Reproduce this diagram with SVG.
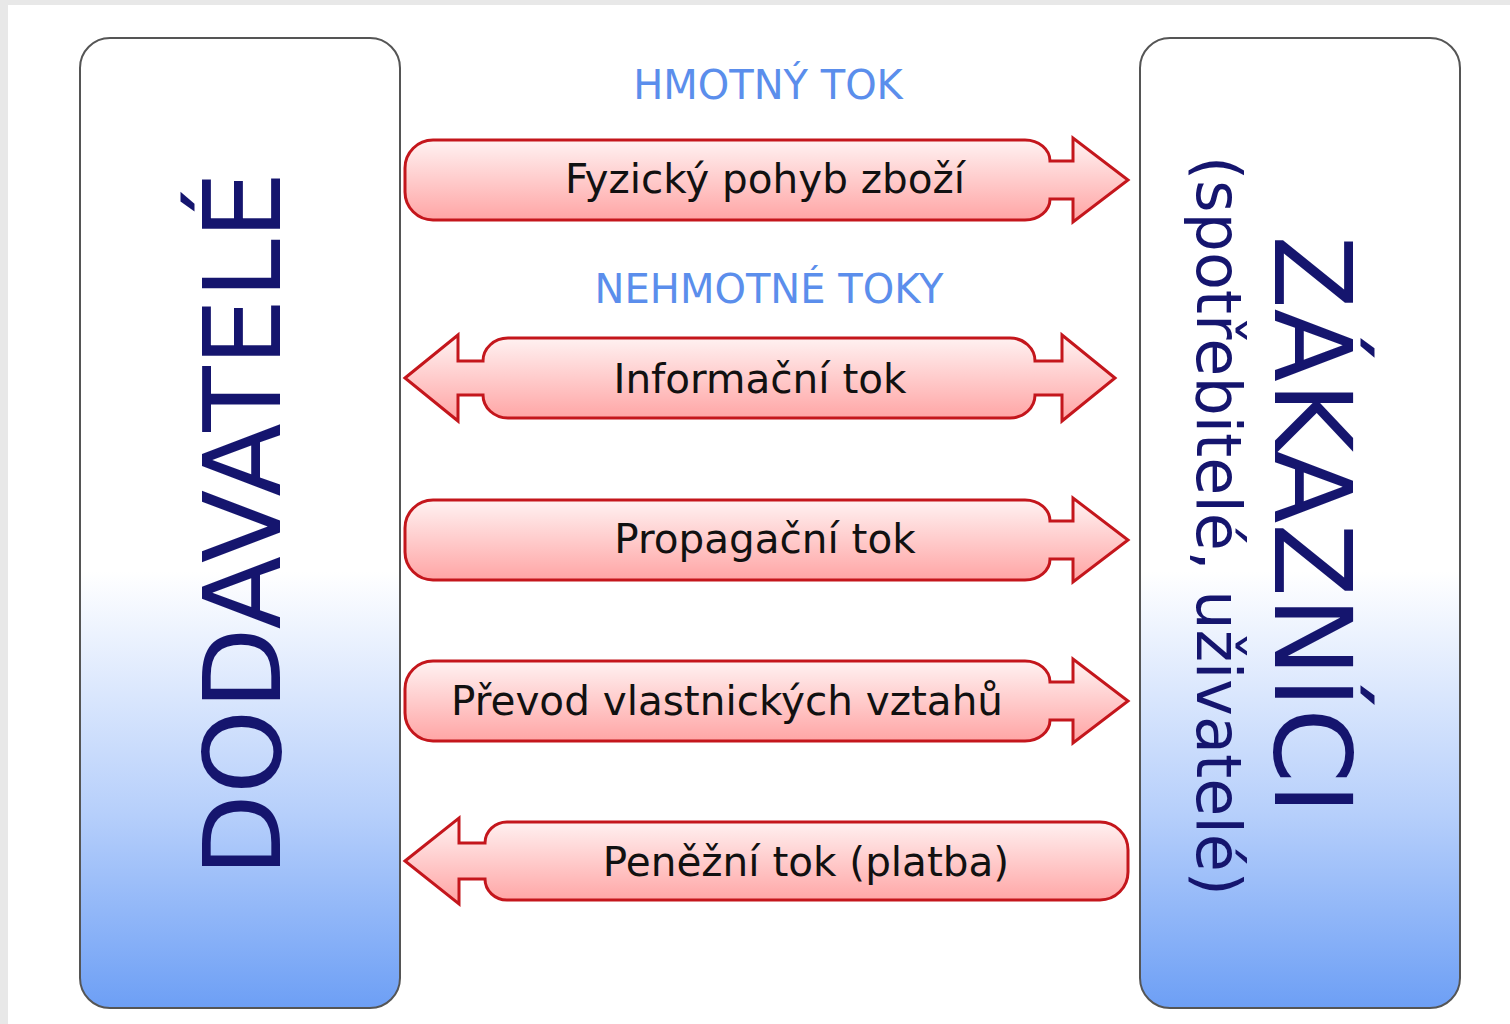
<svg xmlns="http://www.w3.org/2000/svg" width="1510" height="1024" viewBox="0 0 1510 1024">
<defs>
<linearGradient id="boxg" x1="0" y1="0" x2="0" y2="1">
<stop offset="0" stop-color="#ffffff"/>
<stop offset="0.55" stop-color="#ffffff"/>
<stop offset="0.8" stop-color="#b6cffb"/>
<stop offset="1" stop-color="#6d9ff5"/>
</linearGradient>
<linearGradient id="arrg" x1="0" y1="0" x2="0" y2="1">
<stop offset="0" stop-color="#fff4f4"/>
<stop offset="1" stop-color="#ffa3a3"/>
</linearGradient>
<path id="rarrow" d="M 433 -40 H 1025 A 25 21 0 0 1 1050 -19 H 1073 V -42 L 1128 0 L 1073 42 V 19 H 1050 A 25 21 0 0 1 1025 40 H 433 A 28 28 0 0 1 405 12 V -12 A 28 28 0 0 1 433 -40 Z"/>
</defs>
<style>
.box{fill:url(#boxg);stroke:#555555;stroke-width:2}
.arr{fill:url(#arrg);stroke:#c4161c;stroke-width:3;stroke-linejoin:miter}
.lbl{font-family:"DejaVu Sans","Liberation Sans",sans-serif;font-size:40.5px;fill:#111111;text-anchor:middle}
.cat{font-family:"DejaVu Sans","Liberation Sans",sans-serif;font-size:40px;fill:#5b8eec;text-anchor:middle}
.big{font-family:"DejaVu Sans","Liberation Sans",sans-serif;font-size:107px;fill:#15156e;text-anchor:middle}
.sub{font-family:"DejaVu Sans","Liberation Sans",sans-serif;font-size:62px;fill:#15156e;text-anchor:middle}
</style>
<rect x="0" y="0" width="1510" height="1024" fill="#e8e8e8"/>
<rect x="8" y="5" width="1502" height="1019" fill="#ffffff"/>

<g id="dodavatele">
<rect class="box" x="80" y="38" width="320" height="970" rx="30" ry="30"/>
<text class="big" transform="translate(280,524) rotate(-90)">DODAVATELÉ</text>
</g>

<g id="zakaznici">
<rect class="box" x="1140" y="38" width="320" height="970" rx="30" ry="30"/>
<text class="big" transform="translate(1275,525) rotate(90)">ZÁKAZNÍCI</text>
<text class="sub" transform="translate(1197,526) rotate(90)">(spotřebitelé, uživatelé)</text>
</g>

<g id="labels">
<text class="cat" x="768" y="99">HMOTNÝ TOK</text>
<text class="cat" x="769" y="303">NEHMOTNÉ TOKY</text>
</g>

<g id="connectors">
<g id="fyzicky">
<use href="#rarrow" class="arr" transform="translate(0,180)"/>
<text class="lbl" x="765" y="193">Fyzický pohyb zboží</text>
</g>
<g id="informacni">
<path class="arr" d="M 405 378 L 458 335 V 361 H 483 A 25 23 0 0 1 508 338 H 1010 A 25 23 0 0 1 1035 361 H 1062 V 335 L 1115 378 L 1062 421 V 395 H 1035 A 25 23 0 0 1 1010 418 H 508 A 25 23 0 0 1 483 395 H 458 V 421 Z"/>
<text class="lbl" x="760" y="393">Informační tok</text>
</g>
<g id="propagacni">
<use href="#rarrow" class="arr" transform="translate(0,540)"/>
<text class="lbl" x="765" y="553">Propagační tok</text>
</g>
<g id="prevod">
<use href="#rarrow" class="arr" transform="translate(0,701)"/>
<text class="lbl" x="727" y="715">Převod vlastnických vztahů</text>
</g>
<g id="penezni">
<path class="arr" d="M 405 861 L 459 818 V 843 H 485 A 22 21 0 0 1 507 822 H 1100 A 28 28 0 0 1 1128 850 V 872 A 28 28 0 0 1 1100 900 H 507 A 22 21 0 0 1 485 879 H 459 V 904 Z"/>
<text class="lbl" x="806" y="876">Peněžní tok (platba)</text>
</g>
</g>
</svg>
